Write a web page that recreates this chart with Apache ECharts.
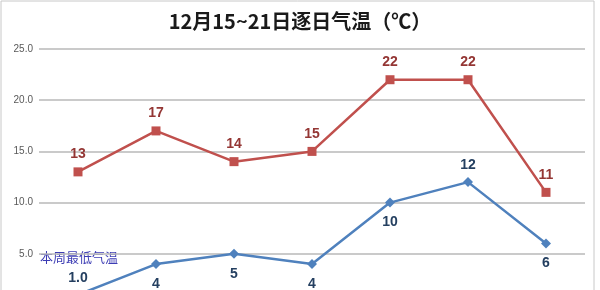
<!DOCTYPE html>
<html><head><meta charset="utf-8">
<script src="https://cdn.jsdelivr.net/npm/echarts@6/dist/echarts.min.js"></script>
<style>html,body{margin:0;padding:0;background:#fff}#c{width:600px;height:290px}</style>
</head><body><div id="c"></div>
<script>
const days = ['15日','16日','17日','18日','19日','20日','21日'];
const highTemps = [13, 17, 14, 15, 22, 22, 11];
const lowTemps = [1.0, 4, 5, 4, 10, 12, 6];
const lowLabels = ['1.0', '4', '5', '4', '10', '12', '6'];
const yTicks = [0, 5, 10, 15, 20, 25];
const titleText = '12月15~21日逐日气温（℃）';
const lowName = '本周最低气温';
const highName = '本周最高气温';

const lowLabelPos = ['top','bottom','bottom','bottom','bottom','top','bottom'];

const chart = echarts.init(document.getElementById('c'));
chart.setOption({
  animation: false,
  title: {
    text: titleText, left: 'center', top: 6,
    textStyle: {fontSize: 20, fontWeight: 'bold', color: '#1a1a1a', fontFamily: '"Noto Sans CJK SC", sans-serif'}
  },
  grid: {left: 39, right: 15, top: 49, height: 256, outerBoundsMode: 'none', containLabel: false},
  xAxis: {
    type: 'category', data: days, boundaryGap: true,
    axisLine: {show: false}, axisTick: {show: false}, axisLabel: {show: false}
  },
  yAxis: {
    type: 'value', min: yTicks[0], max: yTicks[yTicks.length-1], interval: 5,
    axisLine: {show: false}, axisTick: {show: false},
    axisLabel: {formatter: v => v.toFixed(1), color: '#595959', fontSize: 10, margin: 6, fontFamily: 'Liberation Sans, sans-serif'},
    splitLine: {lineStyle: {color: '#b8b8b8', width: 1.5}}
  },
  graphic: [
    {type: 'rect', shape: {x: 1, y: 1, width: 593, height: 300}, style: {fill: 'none', stroke: '#c8c8c8', lineWidth: 1}, silent: true},
    {type: 'text', left: 40, top: 251, style: {text: lowName, fill: '#3c3cb4', font: '13px "Noto Sans CJK SC", sans-serif'}}
  ],
  series: [
    {
      name: highName, type: 'line', data: highTemps,
      symbol: 'rect', symbolSize: 9,
      lineStyle: {color: '#c0504d', width: 2.5},
      itemStyle: {color: '#c0504d'},
      label: {show: true, position: 'top', distance: 6, color: '#943634', fontSize: 14, fontWeight: 'bold', fontFamily: 'Liberation Sans, sans-serif'}
    },
    {
      name: lowName, type: 'line',
      data: lowTemps.map((v, i) => ({
        value: v,
        label: {position: lowLabelPos[i], formatter: lowLabels[i], distance: lowLabelPos[i] === 'top' ? 5 : 8}
      })),
      symbol: 'diamond', symbolSize: 10,
      lineStyle: {color: '#4f81bd', width: 2.5},
      itemStyle: {color: '#4f81bd'},
      label: {show: true, color: '#243f60', fontSize: 14, fontWeight: 'bold', fontFamily: 'Liberation Sans, sans-serif'}
    }
  ]
});
</script></body></html>
